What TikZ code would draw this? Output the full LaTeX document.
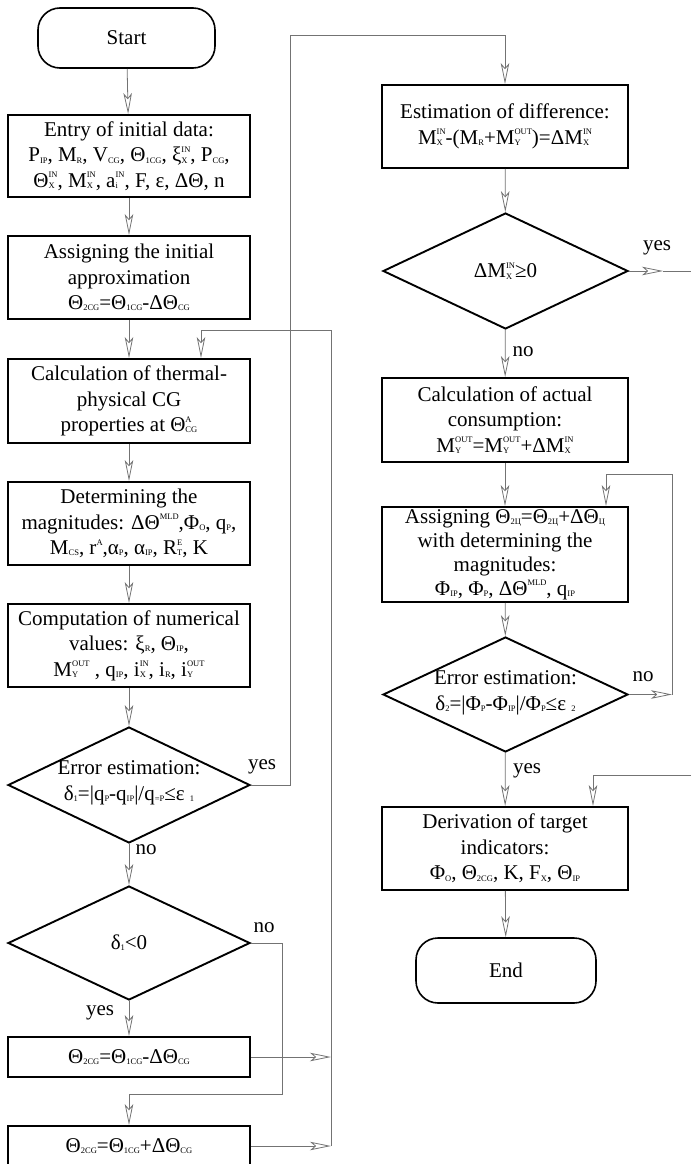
\documentclass[tikz,border=0pt]{standalone}
\usepackage{fontspec}
\setmainfont{Liberation Serif}
\usetikzlibrary{arrows.meta,shapes.geometric,calc}
\definecolor{lnc}{gray}{0.45}
\newcommand\lo[1]{\raisebox{-0.06em}{\fontsize{8.5}{8.5}\selectfont #1}}
\newcommand\hi[1]{\raisebox{0.45em}{\fontsize{8.5}{8.5}\selectfont #1}}
\newcommand\hl[2]{\mbox{\ooalign{\hi{#1}\cr\lo{#2}\cr}}}
\tikzset{
  txt/.style={align=center, inner sep=0pt, font=\fontsize{21}{25.5}\selectfont},
  proc/.style={txt, draw, line width=1.9pt, minimum width=242pt},
  term/.style={txt, draw, line width=1.6pt, rounded corners=22pt},
  dec/.style={draw, diamond, line width=1.9pt, inner sep=0pt},
  conn/.style={draw=lnc, line width=0.8pt},
  arr/.style={conn, -{Stealth[open, length=21pt, width=8.5pt, inset=5pt]}},
  lbl/.style={inner sep=0pt, font=\fontsize{21}{25}\selectfont}
}
\begin{document}
\begin{tikzpicture}[x=1pt,y=1pt]
\useasboundingbox (0,0) rectangle (691,-1164);
% left column
\node[term, minimum width=177pt, minimum height=60pt] (start) at (126.5,-38) {Start};
\node[proc, minimum height=82pt] (entry) at (129,-156) {Entry of initial data:\\ P\lo{IP}, M\lo{R}, V\lo{CG}, Θ\lo{1CG}, ξ\hl{IN}{X}, P\lo{CG},\\ Θ\hl{IN}{X}, M\hl{IN}{X}, a\hl{IN}{i}, F, ε, ΔΘ, n};
\node[proc, minimum height=83pt] (assign) at (129,-277.5) {Assigning the initial\\ approximation\\ Θ\lo{2CG}=Θ\lo{1CG}-ΔΘ\lo{CG}};
\node[proc, minimum height=84pt] (calc) at (129,-401) {Calculation of thermal-\\ physical CG\\ properties at Θ\hl{A}{CG}};
\node[proc, minimum height=83pt] (determ) at (129,-523.5) {Determining the\\ magnitudes: ΔΘ\hi{MLD},Φ\lo{O}, q\lo{P},\\ M\lo{CS}, r\hi{A},α\lo{P}, α\lo{IP}, R\hl{E}{T}, K};
\node[proc, minimum height=83pt] (comp) at (129,-645.5) {Computation of numerical\\ values: ξ\lo{R}, Θ\lo{IP},\\ M\hl{OUT}{Y} , q\lo{IP}, i\hl{IN}{X}, i\lo{R}, i\hl{OUT}{Y}};
\node[dec, minimum width=242pt, minimum height=116pt] (d1) at (129,-785) {};
\node[txt] (d1t) at (129,-783) {Error estimation:\\ δ\lo{1}=|q\lo{P}-q\lo{IP}|/q\lo{=P}≤ε \lo{1}};
\node[dec, minimum width=242pt, minimum height=114pt] (d2) at (129,-943) {};
\node[txt] (d2t) at (129,-943) {δ\lo{1}<0};
\node[proc, minimum height=40pt] (b6) at (129,-1057) {Θ\lo{2CG}=Θ\lo{1CG}-ΔΘ\lo{CG}};
\node[proc, minimum height=40pt] (b7) at (129,-1146) {Θ\lo{2CG}=Θ\lo{1CG}+ΔΘ\lo{CG}};
% right column
\node[proc, minimum width=246pt, minimum height=83pt] (r1) at (505,-126.5) {Estimation of difference:\\ M\hl{IN}{X}-(M\lo{R}+M\hl{OUT}{Y})=ΔM\hl{IN}{X}};
\node[dec, minimum width=245pt, minimum height=116pt] (rd1) at (505.5,-271) {};
\node[txt] (rd1t) at (505.5,-271) {ΔM\hl{IN}{X}≥0};
\node[proc, minimum width=246pt, minimum height=84pt] (r2) at (505,-420) {Calculation of actual\\ consumption:\\ M\hl{OUT}{Y}=M\hl{OUT}{Y}+ΔM\hl{IN}{X}};
\node[proc, minimum width=246pt, minimum height=95pt, font=\fontsize{21}{24}\selectfont] (r3) at (505,-554.5) {Assigning Θ\lo{2Ц}=Θ\lo{2Ц}+ΔΘ\lo{Ц}\\ with determining the\\ magnitudes:\\ Φ\lo{IP}, Φ\lo{P}, ΔΘ\hi{MLD}, q\lo{IP}};
\node[dec, minimum width=245pt, minimum height=115pt] (rd2) at (505.5,-694.5) {};
\node[txt] (rd2t) at (505.5,-693) {Error estimation:\\ δ\lo{2}=|Φ\lo{P}-Φ\lo{IP}|/Φ\lo{P}≤ε \lo{2}};
\node[proc, minimum width=246pt, minimum height=83pt] (r4) at (505,-848.5) {Derivation of target\\ indicators:\\ Φ\lo{O}, Θ\lo{2CG}, K, F\lo{X}, Θ\lo{IP}};
\node[term, minimum width=180pt, minimum height=65pt] (stop) at (506,-970.5) {End};
% coordinates
\coordinate (cA) at (290,-35);
\coordinate (cB) at (282,-1094);
\coordinate (cC) at (331,-1057);
\coordinate (cD) at (331,-1146);
\coordinate (cE) at (201,-330);
\coordinate (cF) at (663,-271);
\coordinate (cG) at (691,-271);
\coordinate (cH) at (672,-694.5);
\coordinate (cI) at (606,-474);
\coordinate (cJ) at (691,-775);
\coordinate (cK) at (593,-775);
% left connectors
\draw[arr] (start) -- (entry);
\draw[arr] (entry) -- (assign);
\draw[arr] (assign) -- (calc);
\draw[arr] (calc) -- (determ);
\draw[arr] (determ) -- (comp);
\draw[arr] (comp) -- (d1);
\draw[arr] (d1) -- (d2);
\draw[arr] (d2) -- (b6);
\draw[arr] (d1.east) -| (cA) -| (r1.north);
\draw[arr] (d2.east) -| (cB) -| (b7.north);
\draw[arr] (b6.east) -- (cC);
\draw[arr] (b7.east) -- (cD);
\draw[conn] (cD) |- (cE);
\draw[arr] (cE) -- (cE |- calc.north);
% right connectors
\draw[arr] (rd1.east) -- (cF);
\draw[conn] (cF) -- (cG);
\draw[arr] (r1) -- (rd1);
\draw[arr] (rd1) -- (r2);
\draw[arr] (r2) -- (r3);
\draw[arr] (r3) -- (rd2);
\draw[arr] (rd2.east) -- (cH);
\draw[arr] (cH) |- (cI) -- (cI |- r3.north);
\draw[arr] (rd2) -- (r4);
\draw[conn] (cJ) -- (cK);
\draw[arr] (cK) -- (cK |- r4.north);
\draw[arr] (r4) -- (stop);
% labels
\node[lbl] (l1) at (262,-767) {yes};
\node[lbl] (l2) at (146,-850) {no};
\node[lbl] (l3) at (264,-928) {no};
\node[lbl] (l4) at (100,-1013) {yes};
\node[lbl] (l5) at (657,-248) {yes};
\node[lbl] (l6) at (523,-352) {no};
\node[lbl] (l7) at (643,-677) {no};
\node[lbl] (l8) at (527,-771) {yes};
\end{tikzpicture}
\end{document}
